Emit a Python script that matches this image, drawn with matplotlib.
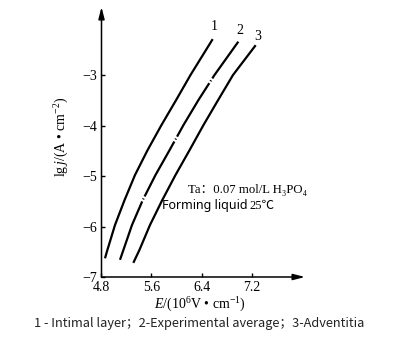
import matplotlib
matplotlib.use("Agg")
import matplotlib.pyplot as plt

plt.rcParams['mathtext.fontset'] = 'custom'
plt.rcParams['mathtext.rm'] = 'Liberation Serif'
plt.rcParams['mathtext.it'] = 'Liberation Serif:italic'
plt.rcParams['lines.scale_dashes'] = False

# Data
E1 = [4.856, 4.893, 5.016, 5.168, 5.336, 5.536, 5.760, 5.992, 6.224, 6.579]
J1 = [-6.63, -6.47, -5.97, -5.48, -4.98, -4.49, -3.99, -3.50, -3.00, -2.29]
E2 = [5.096, 5.149, 5.288, 5.459, 5.664, 5.888, 6.112, 6.349, 6.608, 6.989]
J2 = [-6.66, -6.47, -5.97, -5.48, -4.98, -4.49, -3.99, -3.50, -3.00, -2.34]
E3 = [5.309, 5.405, 5.576, 5.771, 5.984, 6.208, 6.432, 6.664, 6.904, 7.267]
J3 = [-6.72, -6.47, -5.97, -5.48, -4.98, -4.49, -3.99, -3.50, -3.00, -2.41]
curve_labels = ["1", "2", "3"]
xticks = [4.8, 5.6, 6.4, 7.2]
yticks = [-7, -6, -5, -4, -3]

W, H = 400, 354
fig = plt.figure(figsize=(W / 100, H / 100), dpi=100)

def fx(x):
    return x / W

def fy(y):
    return 1 - y / H

x0, x1 = 101.5, 305
y0, y1 = 277, 7
ax = fig.add_axes([fx(x0), fy(y0), (x1 - x0) / W, (y0 - y1) / H])
ax.set_xlim(4.8, 4.8 + (x1 - x0) / 62.5)
ax.set_ylim(-7, -7 + (y0 - y1) / 50.5)
for s in ax.spines.values():
    s.set_visible(False)

lw = 1.6
ax.plot(E1, J1, color='black', lw=lw, solid_capstyle='butt',
        solid_joinstyle='round')
ax.plot(E2, J2, color='black', lw=lw, linestyle=(0, (45, 1.6, 0.8, 1.6)),
        dash_capstyle='butt', dash_joinstyle='round')
ax.plot(E3, J3, color='black', lw=lw, solid_capstyle='butt',
        solid_joinstyle='round')

for lab, e, j, dx, dy in [(curve_labels[0], E1[-1], J1[-1], 0.02, 0.12),
                          (curve_labels[1], E2[-1], J2[-1], 0.03, 0.1),
                          (curve_labels[2], E3[-1], J3[-1], 0.03, 0.05)]:
    ax.text(e + dx, j + dy, lab, family='Liberation Serif', fontsize=10,
            ha='center', va='bottom')

arrow = dict(arrowstyle='-|>,head_width=0.18,head_length=0.7', lw=1.1,
             color='black', mutation_scale=10, shrinkA=0, shrinkB=0)
ax.annotate('', xy=(0, 1), xytext=(0, 0), xycoords='axes fraction',
            arrowprops=arrow, annotation_clip=False)
ax.annotate('', xy=(1, 0), xytext=(0, 0), xycoords='axes fraction',
            arrowprops=arrow, annotation_clip=False)

ax.set_xticks(xticks)
ax.set_xticklabels([f"{v:.1f}" for v in xticks])
ax.set_yticks(yticks)
ax.set_yticklabels([f"\u2212{abs(v)}" for v in yticks])
ax.tick_params(direction='in', length=3, width=1, pad=3, labelsize=10)
for t in ax.get_xticklabels() + ax.get_yticklabels():
    t.set_family('Liberation Serif')

fig.text(fx(62), fy(137), r"lg$\,j$/(A • cm$^{-2}$)", rotation=90,
         family='Liberation Serif', fontsize=10, ha='center', va='center')
fig.text(fx(200), fy(305), r"$E$/(10$^6$V • cm$^{-1}$)",
         family='Liberation Serif', fontsize=10, ha='center', va='center')

fig.text(fx(188), fy(190), "Ta\uff1a0.07 mol/L H\u2083PO\u2084",
         family=['Liberation Serif', 'DejaVu Serif', 'Noto Sans CJK SC'],
         fontsize=9.2, ha='left', va='center')
fig.text(fx(162), fy(206), "Forming liquid", family='Noto Sans',
         fontsize=9, ha='left', va='center')
fig.text(fx(249), fy(206), "25\u2103",
         family=['Liberation Serif', 'Noto Sans CJK SC'],
         fontsize=9, ha='left', va='center')

fig.text(fx(199), fy(323),
         "1 - Intimal layer\uff1b2-Experimental average\uff1b3-Adventitia",
         family=['Noto Sans CJK SC', 'DejaVu Sans'], fontsize=9.2,
         ha='center', va='center', color='#222222')

fig.savefig("out.png", dpi=100)
